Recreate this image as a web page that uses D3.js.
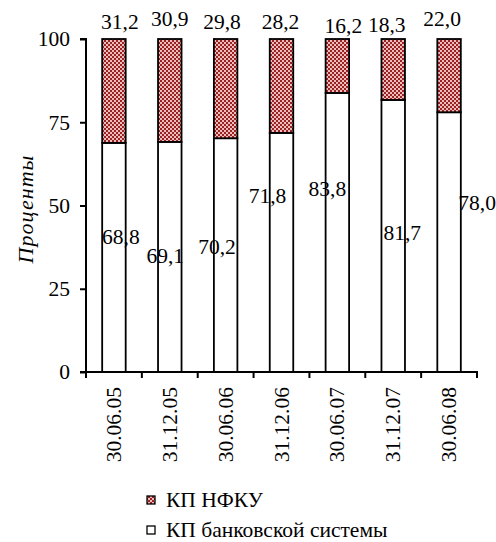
<!DOCTYPE html>
<html><head><meta charset="utf-8">
<script src="https://cdn.jsdelivr.net/npm/d3@7"></script>
<style>body{margin:0;background:#fff}svg{display:block}</style>
</head><body><svg id="c" width="496" height="542"></svg>
<script>
const categories = ["30.06.05","31.12.05","30.06.06","31.12.06","30.06.07","31.12.07","30.06.08"];
const bankValues = [68.8, 69.1, 70.2, 71.8, 83.8, 81.7, 78.0];
const nfkuValues = [31.2, 30.9, 29.8, 28.2, 16.2, 18.3, 22.0];
const yTicks = [0, 25, 50, 75, 100];
const seriesNames = ["КП НФКУ", "КП банковской системы"];
// label placement (labels were moved by hand in the original): [dx in px, y in value units]
const topLabelLayout = [[6,3.0],[0,3.9],[-3.6,3.0],[-1,3.0],[6,1.8],[-6.5,2.1],[-7,3.9]];
const innerLabelLayout = [[7,38.4],[-4.5,32.7],[-8.6,35.4],[-14,50.7],[-10,52.8],[9,39.6],[28,48.6]];

const FONT = '"Liberation Serif"';
const fmt = v => v.toFixed(1).replace(".", ",");
const svg = d3.select("#c").attr("font-family", FONT);
const m = {l:86, r:477, t:39, b:372};
const x = d3.scaleBand().domain(categories).range([m.l, m.r]).padding(0);
const y = d3.scaleLinear().domain([0,100]).range([m.b, m.t]);
const barW = 23.5;
const fs = 21.5;

const defs = svg.append("defs");
const pat = defs.append("pattern").attr("id","hatch").attr("patternUnits","userSpaceOnUse").attr("width",4).attr("height",4);
pat.append("rect").attr("width",4).attr("height",4).attr("fill","#eabcbc");
pat.append("rect").attr("x",0).attr("y",0).attr("width",2).attr("height",2).attr("fill","#9a2222");
pat.append("rect").attr("x",2).attr("y",2).attr("width",2).attr("height",2).attr("fill","#9a2222");

categories.forEach((c,i) => {
  const bx = x(c) + (x.bandwidth()-barW)/2;
  const b = bankValues[i], n = nfkuValues[i];
  svg.append("rect").attr("x",bx).attr("y",y(b)).attr("width",barW).attr("height",y(0)-y(b))
    .attr("fill","#fff").attr("stroke","#000").attr("stroke-width",1.8);
  svg.append("rect").attr("x",bx).attr("y",y(b+n)).attr("width",barW).attr("height",y(b)-y(b+n))
    .attr("fill","url(#hatch)").attr("stroke","#000").attr("stroke-width",1.8);
});

const yAxis = d3.axisLeft(y).tickValues(yTicks).tickSize(6).tickPadding(10).tickFormat(d3.format("d"));
const gy = svg.append("g").attr("transform",`translate(${m.l},0)`).call(yAxis).attr("font-family",FONT).attr("font-size",fs);
gy.select(".domain").attr("stroke","#000").attr("stroke-width",2).attr("d",`M-6,${m.t}H0V${m.b}H-6`);
gy.selectAll(".tick line").attr("stroke","#000").attr("stroke-width",2);
gy.selectAll(".tick text").attr("fill","#000");

const edges = categories.map(c => x(c)).concat([m.r]);
svg.append("line").attr("x1",m.l-1).attr("x2",m.r+1).attr("y1",m.b).attr("y2",m.b).attr("stroke","#000").attr("stroke-width",2);
svg.selectAll(".xt").data(edges).enter().append("line")
  .attr("x1",d=>d).attr("x2",d=>d).attr("y1",m.b).attr("y2",m.b+6).attr("stroke","#000").attr("stroke-width",2);
svg.selectAll(".xl").data(categories).enter().append("text")
  .attr("transform",d=>`translate(${x(d)+x.bandwidth()/2+7},${m.b+15}) rotate(-90)`)
  .attr("text-anchor","end").attr("font-size",fs).text(d=>d);

svg.append("text").attr("transform",`translate(33,209) rotate(-90)`)
  .attr("text-anchor","middle").attr("font-size",22).attr("letter-spacing",1).attr("font-style","italic").text("Проценты");

categories.forEach((c,i) => {
  const cx = x(c) + x.bandwidth()/2;
  const tl = topLabelLayout[i], il = innerLabelLayout[i];
  svg.append("text").attr("x",cx+tl[0]).attr("y",y(100 + tl[1])).attr("text-anchor","middle")
    .attr("font-size",fs).text(fmt(nfkuValues[i]));
  svg.append("text").attr("x",cx+il[0]).attr("y",y(il[1])).attr("text-anchor","middle")
    .attr("font-size",fs).text(fmt(bankValues[i]));
});

const lg = svg.append("g");
seriesNames.forEach((s,i) => {
  const cy = 500 + i*30;
  lg.append("rect").attr("x",147).attr("y",cy-4).attr("width",8).attr("height",8)
    .attr("fill", i===0 ? "url(#hatch)" : "#fff").attr("stroke","#000").attr("stroke-width",1.3);
  lg.append("text").attr("x",166).attr("y",cy+7).attr("font-size",fs).text(s);
});
</script></body></html>
